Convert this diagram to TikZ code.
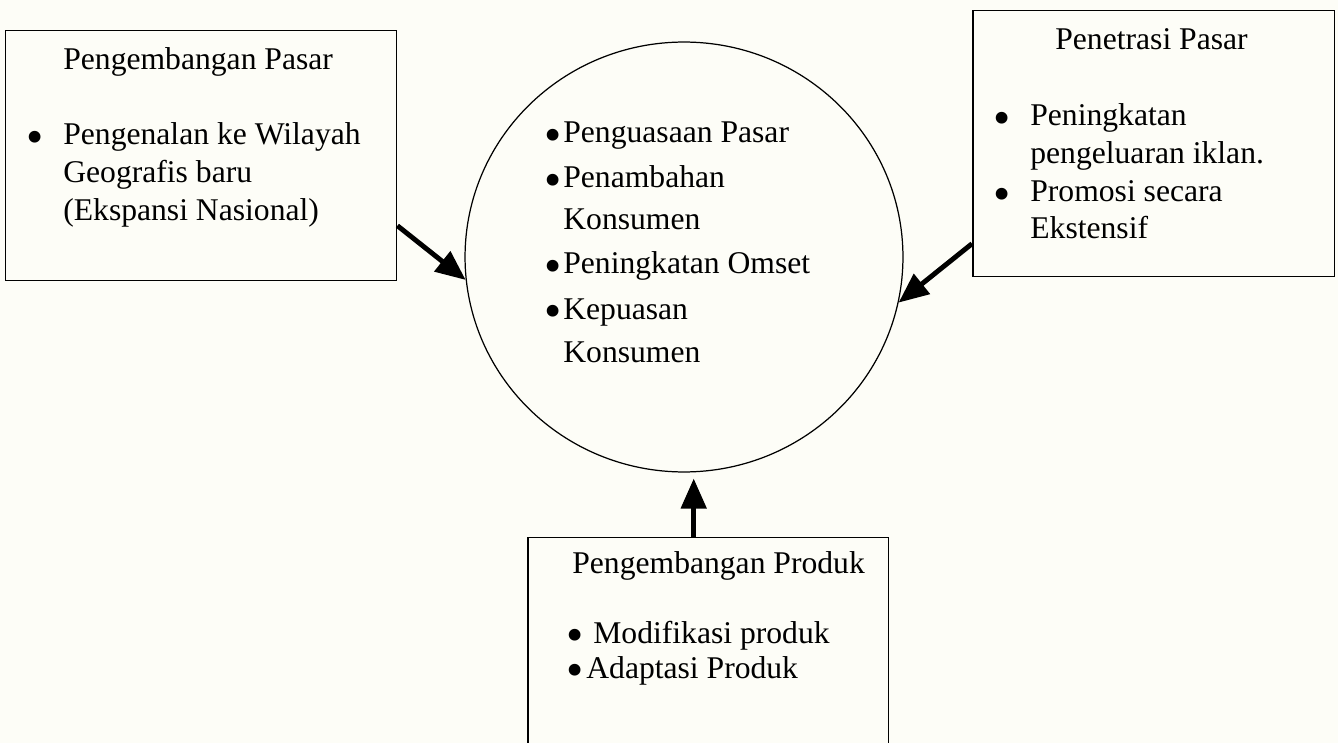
\documentclass[tikz,border=0pt]{standalone}
\usepackage{fontspec}
\setmainfont{Liberation Serif}
\usepackage{xcolor}
\usetikzlibrary{arrows.meta, positioning, shapes.geometric}

\definecolor{kertas}{RGB}{253,253,247}
\newcommand{\butir}{\smash{\fontsize{28}{28}\selectfont\raisebox{-5pt}{\textbullet}}}

\begin{document}
\begin{tikzpicture}[x=0.02cm, y=-0.02cm,
			panel/.style={draw=black, line width=0.85pt, fill=none, inner sep=0pt, anchor=north west},
			isi/.style={inner sep=0pt, anchor=base west, font=\fontsize{18}{22}\selectfont},
			flow/.style={-{Triangle[length=0.6cm, width=0.5cm]}, line width=2.8pt, black}]
			
			\fill[kertas] (0,0) rectangle (1338,743);
			\useasboundingbox (0,0) rectangle (1338,743);
			
			% kotak dan lingkaran
			\node[panel, minimum width=7.82cm, minimum height=5cm] (pasar) at (5,30) {};
			\node[panel, minimum width=7.24cm, minimum height=5.32cm] (penetrasi) at (972,10) {};
			\node[panel, minimum width=7.22cm, minimum height=4.6cm] (produk) at (527,537) {};
			\node[draw=black, line width=0.7pt, ellipse, minimum width=8.76cm, minimum height=8.6cm, inner sep=0pt] (pusat) at (684,257) {};
			
			% Pengembangan Pasar
			\node[isi] (pasarjudul) at (63,70) {Pengembangan Pasar};
			\node[isi] (pasarb1) at (26,145) {\butir};
			\node[isi] (pasar1) at (63,145) {Pengenalan ke Wilayah};
			\node[isi] (pasar2) at (63,183) {Geografis baru};
			\node[isi] (pasar3) at (63,220) {(Ekspansi Nasional)};
			
			% Penetrasi Pasar
			\node[isi] (penetrasijudul) at (1055,50) {Penetrasi Pasar};
			\node[isi] (penetrasib1) at (993,126) {\butir};
			\node[isi] (penetrasi1) at (1030,126) {Peningkatan};
			\node[isi] (penetrasi2) at (1030,164) {pengeluaran iklan.};
			\node[isi] (penetrasib2) at (993,202) {\butir};
			\node[isi] (penetrasi3) at (1030,202) {Promosi secara};
			\node[isi] (penetrasi4) at (1030,238) {Ekstensif};
			
			% tujuan
			\node[isi] (pusatb1) at (544,143) {\butir};
			\node[isi] (pusat1) at (563,143) {Penguasaan Pasar};
			\node[isi] (pusatb2) at (544,188) {\butir};
			\node[isi] (pusat2) at (563,188) {Penambahan};
			\node[isi] (pusat3) at (563,230) {Konsumen};
			\node[isi] (pusatb3) at (544,274) {\butir};
			\node[isi] (pusat4) at (563,274) {Peningkatan Omset};
			\node[isi] (pusatb4) at (544,319) {\butir};
			\node[isi] (pusat5) at (563,319) {Kepuasan};
			\node[isi] (pusat6) at (563,362) {Konsumen};
			
			% Pengembangan Produk
			\node[isi] (produkjudul) at (572,573) {Pengembangan Produk};
			\node[isi] (produkb1) at (566,643) {\butir};
			\node[isi] (produk1) at (593,643) {Modifikasi produk};
			\node[isi] (produkb2) at (566,678) {\butir};
			\node[isi] (produk2) at (586,678) {Adaptasi Produk};
			
			% panah
			\draw[flow] ([yshift=-1.4cm]pasar.east) -- (pusat.186);
			\draw[flow] ([yshift=-2cm]penetrasi.west) -- (pusat.-12);
			\draw[flow, shorten >=0.12cm] ([xshift=-0.29cm]produk.north) -- ([xshift=-0.29cm]produk.north |- pusat.south);
		\end{tikzpicture}
\end{document}
